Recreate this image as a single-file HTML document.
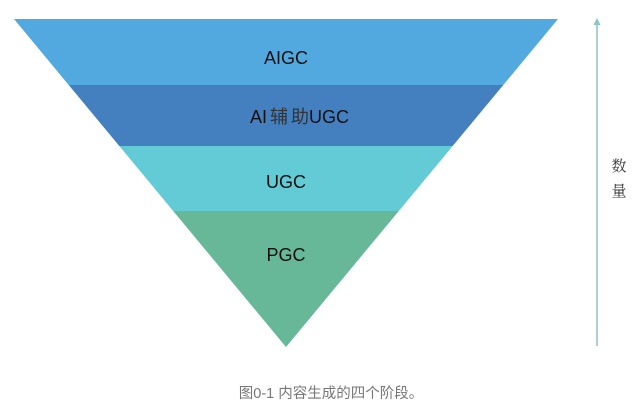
<!DOCTYPE html>
<html><head><meta charset="utf-8"><style>
html,body{margin:0;padding:0;background:#fff;width:637px;height:411px;overflow:hidden}
svg{display:block}
</style></head><body>
<svg width="637" height="411" viewBox="0 0 637 411" xmlns="http://www.w3.org/2000/svg">
<polygon points="14,19 558,19 503.3,85 68.7,85" fill="#52a9df"/>
<polygon points="68.7,85 503.3,85 452.7,146 119.3,146" fill="#4480c0"/>
<polygon points="119.3,146 452.7,146 398.8,211 173.2,211" fill="#62cbd5"/>
<polygon points="173.2,211 398.8,211 286,347" fill="#66b899"/>
<g font-family="Liberation Sans, Noto Sans CJK SC, sans-serif" font-size="18" fill="#111" text-anchor="middle">
<text x="286" y="64">AIGC</text>
<text x="286" y="188">UGC</text>
<text x="286" y="261">PGC</text>
</g>
<text x="250" y="123" font-family="Liberation Sans, Noto Sans CJK SC, sans-serif" font-size="18" fill="#111">AI<tspan dx="3" fill="#333">辅</tspan><tspan dx="3" fill="#333">助</tspan>UGC</text>
<line x1="597" y1="24" x2="597" y2="346" stroke="#8fc4c4" stroke-width="1.5"/>
<polygon points="597,18 593.5,25 600.5,25" fill="#8fc4c4"/>
<g font-family="Noto Serif CJK SC, serif" font-size="15" fill="#333" text-anchor="middle">
<text x="619" y="171">数</text>
<text x="619" y="196">量</text>
</g>
<text x="331" y="398" font-family="Liberation Sans, Noto Sans CJK SC, sans-serif" font-size="14.5" fill="#777" text-anchor="middle">图0-1 内容生成的四个阶段。</text>
</svg>
</body></html>
